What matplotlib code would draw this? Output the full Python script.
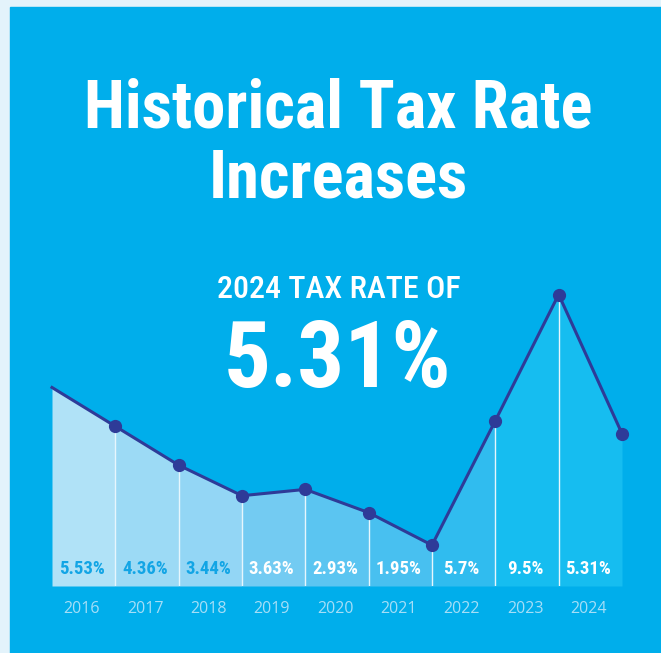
import numpy as np
import matplotlib
matplotlib.use("Agg")
import matplotlib.pyplot as plt
from matplotlib.patches import Rectangle

# data
years = ["2016", "2017", "2018", "2019", "2020", "2021", "2022", "2023", "2024"]
rates = [5.53, 4.36, 3.44, 3.63, 2.93, 1.95, 5.7, 9.5, 5.31]
rate_labels = ["5.53%", "4.36%", "3.44%", "3.63%", "2.93%", "1.95%", "5.7%", "9.5%", "5.31%"]
start_rate = 6.7  # level of the line at the left edge (no marker)

# styling
bg = "#00aeeb"
seg_colors = ["#b0e2f7", "#9cdaf5", "#93d6f5", "#73cbf2", "#5bc5f1",
              "#48c0f0", "#30bcef", "#16bdf0", "#16bdf0"]
label_colors = ["#12a5e5"] * 3 + ["white"] * 6
line_color = "#2e3b98"
year_color = "#a6def7"
cond = ["Roboto Condensed", "Open Sans Condensed", "Roboto", "DejaVu Sans"]
plain = ["Open Sans", "DejaVu Sans"]

W, H = 661, 653
fig = plt.figure(figsize=(W / 100, H / 100), dpi=100, facecolor="#e3f3fb")
fig.patches.append(Rectangle((10 / W, 0), 1 - 10 / W, 1 - 7 / H,
                             transform=fig.transFigure, color=bg, zorder=-1))

# titles
fig.text(338 / W, 1 - 127 / H, "Historical Tax Rate", ha="center", va="baseline",
         color="white", fontsize=48, fontweight="bold", family=cond, fontstretch="condensed")
fig.text(338 / W, 1 - 198 / H, "Increases", ha="center", va="baseline",
         color="white", fontsize=48, fontweight="bold", family=cond, fontstretch="condensed")
fig.text(339 / W, 1 - 298 / H, "2024 TAX RATE OF", ha="center", va="baseline",
         color="white", fontsize=23, fontweight="medium", family=cond, fontstretch="condensed")
fig.text(338 / W, 1 - 387 / H, "5.31%", ha="center", va="baseline",
         color="white", fontsize=67, fontweight="bold", family=cond, fontstretch="condensed")

# chart
baseline = 0.72
ax = fig.add_axes([52 / W, 67 / H, 570 / W, 305 / H])
ax.set_facecolor("none")
ax.set_xlim(0, len(years))
ax.set_ylim(baseline, baseline + 305 / 33.2)
ax.axis("off")

xs = np.arange(len(years) + 1)
ys = [start_rate] + rates

for i in range(len(years)):
    ax.fill_between(xs[i:i + 2], ys[i:i + 2], baseline, color=seg_colors[i], lw=0, zorder=1)
for i in range(1, len(years)):
    ax.plot([xs[i], xs[i]], [baseline, ys[i]], color="#e6f6fd", lw=1, zorder=2)

ax.plot(xs, ys, color=line_color, lw=2.2, marker="o", ms=8.5,
        markevery=list(range(1, len(xs))), zorder=3, clip_on=False)

for i, (yr, lab) in enumerate(zip(years, rate_labels)):
    ax.annotate(lab, (i + 0.5, baseline), xytext=(-2, 12), textcoords="offset pixels",
                ha="center", va="baseline", color=label_colors[i],
                fontsize=13.5, fontweight="bold", family=cond, fontstretch="condensed")
    ax.annotate(yr, (i + 0.5, baseline), xytext=(-2, -27), textcoords="offset pixels",
                ha="center", va="baseline", color=year_color, fontsize=11.5, family=plain)

fig.savefig("out.png", dpi=100, facecolor=fig.get_facecolor())
